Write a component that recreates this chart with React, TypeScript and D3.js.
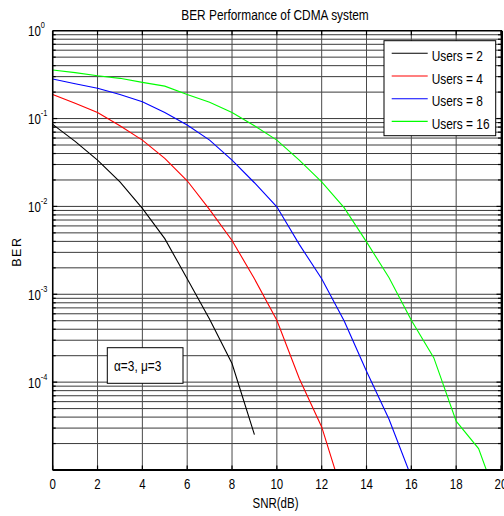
import React from "react";
import * as d3 from "d3";

const snrDb = [0, 1, 2, 3, 4, 5, 6, 7, 8, 9, 10, 11, 12, 13, 14, 15, 16, 17, 18, 19, 20];
const users2 = [0.086, 0.055, 0.0337, 0.019, 0.0095, 0.0043, 0.0015, 0.00052, 0.000163, 0.0000253];
const users4 = [0.188, 0.149, 0.1175, 0.0828, 0.0569, 0.0352, 0.0196, 0.0092, 0.0041, 0.0015, 0.000507, 0.00011, 0.0000309, 0.0000047];
const users8 = [0.282, 0.249, 0.221, 0.188, 0.155, 0.1175, 0.0844, 0.0569, 0.0337, 0.0186, 0.0099, 0.0037, 0.0015, 0.0005, 0.000133, 0.000038, 0.0000083];
const users16 = [0.357, 0.333, 0.307, 0.287, 0.258, 0.234, 0.188, 0.153, 0.117, 0.0828, 0.0569, 0.0337, 0.019, 0.0097, 0.00395, 0.00155, 0.000507, 0.00019, 0.000036, 0.0000175, 0.0000035];

const seriesNames = ["Users = 2", "Users = 4", "Users = 8", "Users = 16"];
const seriesColors = ["#000000", "#ff0000", "#0000ff", "#00ff00"];
const seriesValues = [users2, users4, users8, users16];

const xTicks = [0, 2, 4, 6, 8, 10, 12, 14, 16, 18, 20];
const yTickExps = [0, -1, -2, -3, -4];

const W = 504;
const H = 516;
const M = { left: 52.7, right: 501, top: 30.7, bottom: 470 };
const FONT = "'Liberation Sans', Arial, sans-serif";
const SX = 0.82;

function NText(props: { x: number; y: number; size: number; anchor?: string; children: React.ReactNode }) {
  return (
    <text
      transform={`translate(${props.x},${props.y}) scale(${SX},1)`}
      textAnchor={props.anchor || "start"}
      fontFamily={FONT}
      fontSize={props.size}
      fill="#000"
    >
      {props.children}
    </text>
  );
}

export default function App() {
  const x = d3.scaleLinear().domain([0, 20]).range([M.left, M.right]);
  const y = d3.scaleLog().domain([1e-5, 1]).range([M.bottom, M.top]);

  const minorY: number[] = [];
  for (let e = -5; e < 0; e++) {
    for (let m = 1; m <= 9; m++) minorY.push(m * Math.pow(10, e));
  }
  const line = d3
    .line<number>()
    .x((_, i) => x(snrDb[i]))
    .y((d) => y(d));

  const legend = { x: 384, y: 40.7, w: 111.7, h: 95 };

  return (
    <svg width={W} height={H} style={{ position: "absolute", left: 0, top: 0, background: "#fff" }}>
      <defs>
        <clipPath id="plotClip">
          <rect x={M.left} y={M.top} width={M.right - M.left} height={M.bottom - M.top} />
        </clipPath>
      </defs>
      <rect x={0} y={0} width={W} height={H} fill="#fff" />
      {minorY.map((v, i) => (
        <line key={"h" + i} x1={M.left} x2={M.right} y1={y(v)} y2={y(v)} stroke="#3a3a3a" strokeWidth={1} />
      ))}
      {xTicks.map((t) => (
        <line key={"v" + t} x1={x(t)} x2={x(t)} y1={M.top} y2={M.bottom} stroke="#4a4a4a" strokeWidth={1} />
      ))}
      <g clipPath="url(#plotClip)">
        {seriesValues.map((vals, i) => (
          <path key={"s" + i} d={line(vals) || ""} fill="none" stroke={seriesColors[i]} strokeWidth={1.1} />
        ))}
      </g>
      {minorY.map((v, i) => {
        const major = Math.abs(Math.log10(v) - Math.round(Math.log10(v))) < 1e-9;
        const len = major ? 4.5 : 3;
        return (
          <g key={"yt" + i}>
            <line x1={M.left} x2={M.left + len} y1={y(v)} y2={y(v)} stroke="#000" strokeWidth={1.2} />
            <line x1={M.right} x2={M.right - len} y1={y(v)} y2={y(v)} stroke="#000" strokeWidth={1.2} />
          </g>
        );
      })}
      {xTicks.map((t) => (
        <g key={"xt" + t}>
          <line x1={x(t)} x2={x(t)} y1={M.top} y2={M.top + 4.5} stroke="#000" strokeWidth={1.2} />
          <line x1={x(t)} x2={x(t)} y1={M.bottom} y2={M.bottom - 4.5} stroke="#000" strokeWidth={1.2} />
        </g>
      ))}
      <line x1={M.left} x2={M.right + 1} y1={M.top} y2={M.top} stroke="#000" strokeWidth={1.5} />
      <line x1={M.left} x2={M.right + 1} y1={M.bottom} y2={M.bottom} stroke="#000" strokeWidth={2} />
      <line x1={M.left} x2={M.left} y1={M.top} y2={M.bottom} stroke="#000" strokeWidth={1.5} />
      <line x1={M.right + 1} x2={M.right + 1} y1={M.top} y2={M.bottom + 1} stroke="#000" strokeWidth={2} />
      {xTicks.map((t) => (
        <NText key={"xl" + t} x={x(t)} y={489} size={14} anchor="middle">
          {t}
        </NText>
      ))}
      {yTickExps.map((e) => (
        <NText key={"yl" + e} x={28} y={y(Math.pow(10, e)) + 5.5} size={14}>
          10
          <tspan dy={-8} fontSize={9}>
            {String(e)}
          </tspan>
        </NText>
      ))}
      <NText x={275} y={20} size={14.5} anchor="middle">
        BER Performance of CDMA system
      </NText>
      <NText x={275.5} y={508} size={14} anchor="middle">
        SNR(dB)
      </NText>
      <text
        transform={`translate(20.7,251.7) rotate(-90)`}
        textAnchor="middle"
        fontFamily={FONT}
        fontSize={12.5}
        letterSpacing={1.5}
        fill="#000"
      >
        BER
      </text>
      <rect x={legend.x} y={legend.y} width={legend.w} height={legend.h} fill="#fff" stroke="#000" strokeWidth={1} />
      {seriesNames.map((n, i) => {
        const ly = 53.3 + i * 22.7;
        return (
          <g key={"lg" + i}>
            <line x1={391.7} x2={427.7} y1={ly} y2={ly} stroke={seriesColors[i]} strokeWidth={1.1} />
            <NText x={431.7} y={ly + 7.7} size={14.5}>
              {n}
            </NText>
          </g>
        );
      })}
      <rect x={107.3} y={347.7} width={75.7} height={35.6} fill="#fff" stroke="#000" strokeWidth={1} />
      <NText x={114} y={370.7} size={14.5}>
        α=3, μ=3
      </NText>
    </svg>
  );
}
